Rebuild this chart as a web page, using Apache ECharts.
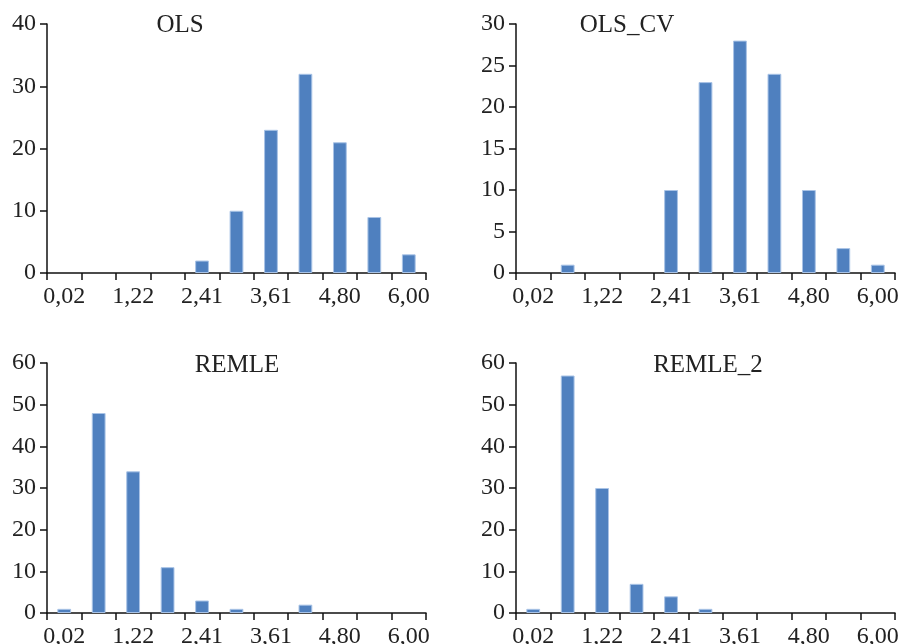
<!DOCTYPE html>
<html>
<head>
<meta charset="utf-8">
<script src="https://cdn.jsdelivr.net/npm/echarts@6/dist/echarts.min.js"></script>
<style>html,body{margin:0;padding:0;background:#fff}#c{width:904px;height:644px}</style>
</head>
<body>
<div id="c"></div>
<script>
var categories = ['0,02','0,62','1,22','1,81','2,41','3,01','3,61','4,21','4,80','5,40','6,00'];
var titles = ['OLS', 'OLS_CV', 'REMLE', 'REMLE_2'];
var olsValues     = [0, 0, 0, 0, 2, 10, 23, 32, 21, 9, 3];
var olsCvValues   = [0, 1, 0, 0, 10, 23, 28, 24, 10, 3, 1];
var remleValues   = [1, 48, 34, 11, 3, 1, 0, 2, 0, 0, 0];
var remle2Values  = [1, 57, 30, 7, 4, 1, 0, 0, 0, 0, 0];
var yMax = [40, 30, 60, 60];
var yInterval = [10, 5, 10, 10];

var allValues = [olsValues, olsCvValues, remleValues, remle2Values];
var grids = [
  {left: 47, top: 24, width: 379, height: 249, outerBoundsMode: 'none', containLabel: false},
  {left: 516, top: 24, width: 379, height: 249, outerBoundsMode: 'none', containLabel: false},
  {left: 47, top: 363, width: 379, height: 250, outerBoundsMode: 'none', containLabel: false},
  {left: 516, top: 363, width: 379, height: 250, outerBoundsMode: 'none', containLabel: false}
];
var titlePos = [[180, 25], [627, 25], [237, 365], [708, 365]];
var FONT = '"Liberation Serif", "Times New Roman", serif';
var TXT = '#222';
var FS = 24;

var xAxes = [], yAxes = [], series = [], graphics = [];
for (var i = 0; i < 4; i++) {
  xAxes.push({
    type: 'category', gridIndex: i, data: categories, boundaryGap: true,
    axisLine: {lineStyle: {color: '#111', width: 1.5}},
    axisTick: {show: true, length: 7, interval: 0, lineStyle: {color: '#111', width: 1.5}},
    axisLabel: {interval: 1, margin: 12, color: TXT, fontFamily: FONT, fontSize: FS},
    splitLine: {show: false}
  });
  yAxes.push({
    type: 'value', gridIndex: i, min: 0, max: yMax[i], interval: yInterval[i],
    axisLine: {show: true, lineStyle: {color: '#111', width: 1.5}},
    axisTick: {show: true, length: 7, lineStyle: {color: '#111', width: 1.5}},
    axisLabel: {margin: 11, color: TXT, fontFamily: FONT, fontSize: FS},
    splitLine: {show: false}
  });
  series.push({
    type: 'bar', xAxisIndex: i, yAxisIndex: i,
    data: allValues[i].map(function (v) { return v === 0 ? '-' : v; }),
    barWidth: '40%',
    itemStyle: {color: '#4f80bf', borderColor: '#a9c3e6', borderWidth: 1}
  });
  graphics.push({
    type: 'text', x: titlePos[i][0], y: titlePos[i][1],
    style: {text: titles[i], align: 'center', verticalAlign: 'middle', fill: TXT, font: (FS + 1) + 'px ' + FONT}
  });
}

var chart = echarts.init(document.getElementById('c'), null, {renderer: 'canvas'});
chart.setOption({
  animation: false,
  backgroundColor: '#fff',
  grid: grids,
  xAxis: xAxes,
  yAxis: yAxes,
  series: series,
  graphic: graphics
});
</script>
</body>
</html>
